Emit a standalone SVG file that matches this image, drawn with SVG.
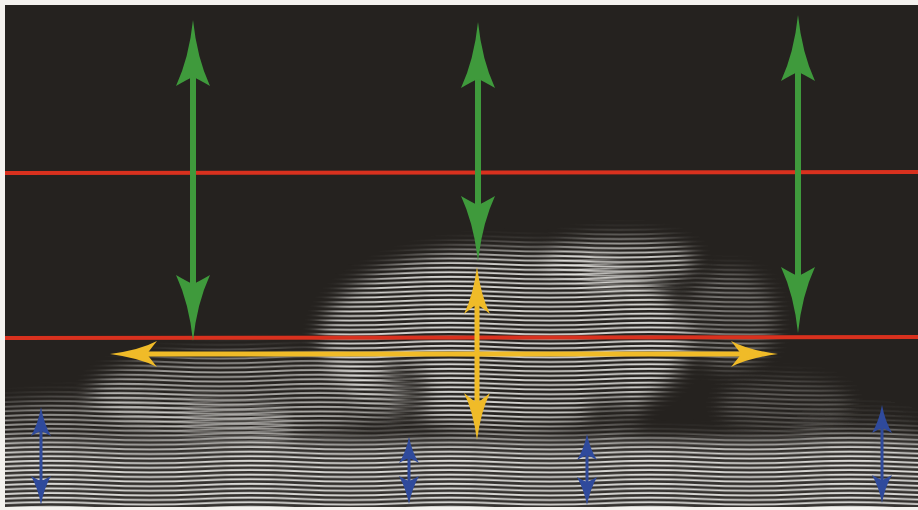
<svg xmlns="http://www.w3.org/2000/svg" width="918" height="510" viewBox="0 0 918 510">
<style>
.red{stroke:#d9311e;stroke-width:4;fill:none}
.g{fill:#3f9a3c}
.gs{stroke:#3f9a3c;stroke-width:6}
.y{fill:#f0bb28}
.ys{stroke:#f0bb28;stroke-width:5}
.b{fill:#2f4a9c}
.bs{stroke:#2f4a9c;stroke-width:3}
.wl{fill:none;stroke:#f2f1ee;stroke-width:1.9}
</style>
<defs>
<path id="wv" d="M0,2 C33,0.4 67,0.4 100,2 C133,3.6 167,3.6 200,2"/>
<pattern id="stripes" patternUnits="userSpaceOnUse" width="200" height="4.6">
<use href="#wv" class="wl" y="-4.6"/>
<use href="#wv" class="wl"/>
<use href="#wv" class="wl" y="4.6"/>
</pattern>
<pattern id="stripes2" patternUnits="userSpaceOnUse" width="200" height="4.6" patternTransform="translate(70,1.2)">
<use href="#wv" class="wl" y="-4.6"/>
<use href="#wv" class="wl"/>
<use href="#wv" class="wl" y="4.6"/>
</pattern>
<filter id="soft" x="-0.3" y="-0.3" width="1.6" height="1.6">
<feGaussianBlur stdDeviation="9"/>
</filter>
<mask id="blob" maskUnits="userSpaceOnUse" x="0" y="0" width="918" height="510">
<g filter="url(#soft)">
<rect x="-20" y="440" width="960" height="80" fill="#dcdcdc"/>
<ellipse cx="130" cy="425" rx="170" ry="28" fill="#8a8a8a"/>
<ellipse cx="505" cy="340" rx="185" ry="92" fill="#d8d8d8"/>
<ellipse cx="730" cy="320" rx="45" ry="50" fill="#6a6a6a"/>
<ellipse cx="400" cy="395" rx="30" ry="35" fill="#3a3a3a"/>
<ellipse cx="610" cy="415" rx="30" ry="20" fill="#3a3a3a"/>
<ellipse cx="860" cy="425" rx="60" ry="16" fill="#222"/>
</g>
</mask>
<mask id="blob2" maskUnits="userSpaceOnUse" x="0" y="0" width="918" height="510">
<g filter="url(#soft)">
<ellipse cx="250" cy="395" rx="160" ry="42" fill="#a0a0a0"/>
<ellipse cx="620" cy="262" rx="75" ry="24" fill="#d0d0d0"/>
<ellipse cx="785" cy="405" rx="65" ry="26" fill="#4a4a4a"/>
</g>
</mask>
</defs>
<rect x="0" y="0" width="918" height="510" fill="#f4f2ee"/>
<rect x="5" y="5" width="913" height="502" fill="#25221f"/>
<g id="texture">
<rect x="5" y="220" width="913" height="287" fill="url(#stripes)" mask="url(#blob)"/>
<rect x="5" y="220" width="913" height="287" fill="url(#stripes2)" mask="url(#blob2)"/>
<rect x="5" y="436" width="913" height="71" fill="#ffffff" opacity="0.07"/>
</g>
<g id="connectors">
<line class="red" x1="5" y1="173" x2="918" y2="172"/>
<line class="red" x1="5" y1="338" x2="918" y2="337"/>
<g id="green1">
<line class="gs" x1="193" y1="70" x2="193" y2="290"/>
<path class="g" d="M193,20 Q197,58 210,86 Q198,79 193,77 Q188,79 176,86 Q189,58 193,20 Z"/>
<path class="g" d="M193,341 Q197,303 210,275 Q198,282 193,284 Q188,282 176,275 Q189,303 193,341 Z"/>
</g>
<g id="green2">
<line class="gs" x1="478" y1="70" x2="478" y2="215"/>
<path class="g" d="M478,22 Q482,60 495,88 Q483,81 478,79 Q473,81 461,88 Q474,60 478,22 Z"/>
<path class="g" d="M478,262 Q482,224 495,196 Q483,203 478,205 Q473,203 461,196 Q474,224 478,262 Z"/>
</g>
<g id="green3">
<line class="gs" x1="798" y1="65" x2="798" y2="285"/>
<path class="g" d="M798,15 Q802,53 815,81 Q803,74 798,72 Q793,74 781,81 Q794,53 798,15 Z"/>
<path class="g" d="M798,333 Q802,295 815,267 Q803,274 798,276 Q793,274 781,267 Q794,295 798,333 Z"/>
</g>
<g id="yellowH">
<line class="ys" x1="140" y1="354" x2="750" y2="354"/>
<path class="y" d="M110,354 Q140,350 157,341 Q149,351 147,354 Q149,357 157,367 Q140,358 110,354 Z"/>
<path class="y" d="M778,354 Q748,350 731,341 Q739,351 741,354 Q739,357 731,367 Q748,358 778,354 Z"/>
</g>
<g id="yellowV">
<line class="ys" x1="477" y1="300" x2="477" y2="410"/>
<path class="y" d="M477,267 Q481,296 490,314 Q480,306 477,304 Q474,306 464,314 Q473,296 477,267 Z"/>
<path class="y" d="M477,440 Q481,411 490,393 Q480,401 477,403 Q474,401 464,393 Q473,411 477,440 Z"/>
</g>
<g id="blue1">
<line class="bs" x1="41" y1="420" x2="41" y2="490"/>
<path class="b" d="M41,407 Q44,424 51,436 Q44,432 41,431 Q38,432 31,436 Q38,424 41,407 Z"/>
<path class="b" d="M41,505 Q44,488 51,476 Q44,480 41,481 Q38,480 31,476 Q38,488 41,505 Z"/>
</g>
<g id="blue2">
<line class="bs" x1="409" y1="450" x2="409" y2="492"/>
<path class="b" d="M409,437 Q412,452 419,463 Q412,459 409,458 Q406,459 399,463 Q406,452 409,437 Z"/>
<path class="b" d="M409,504 Q412,489 419,476 Q412,480 409,481 Q406,480 399,476 Q406,489 409,504 Z"/>
</g>
<g id="blue3">
<line class="bs" x1="587" y1="446" x2="587" y2="492"/>
<path class="b" d="M587,434 Q590,449 597,460 Q590,456 587,455 Q584,456 577,460 Q584,449 587,434 Z"/>
<path class="b" d="M587,505 Q590,490 597,477 Q590,481 587,482 Q584,481 577,477 Q584,490 587,505 Z"/>
</g>
<g id="blue4">
<line class="bs" x1="882" y1="418" x2="882" y2="490"/>
<path class="b" d="M882,405 Q885,421 892,433 Q885,429 882,428 Q879,429 872,433 Q879,421 882,405 Z"/>
<path class="b" d="M882,503 Q885,487 892,475 Q885,479 882,480 Q879,479 872,475 Q879,487 882,503 Z"/>
</g>
</g>
</svg>
